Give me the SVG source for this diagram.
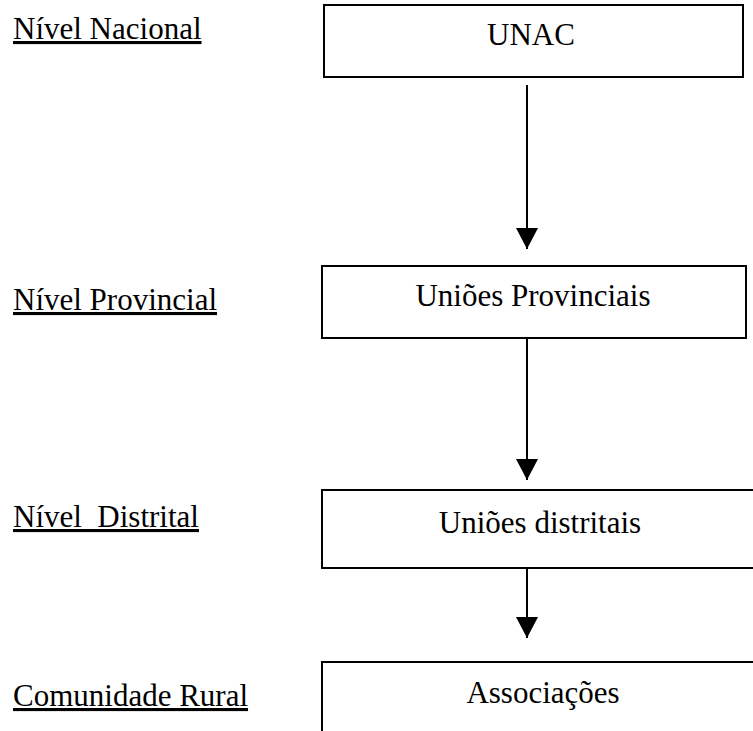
<svg xmlns="http://www.w3.org/2000/svg" width="753" height="731" viewBox="0 0 753 731">
  <style>
    .box { fill: #ffffff; stroke: #000000; stroke-width: 2; }
    .lbl { font-family: "Liberation Serif", "Times New Roman", serif; font-size: 31px; fill: #000000; }
    .ctr { text-anchor: middle; }
    .lvl { text-decoration: underline; }
    .edge { stroke: #000000; stroke-width: 2; fill: none; }
  </style>
  <defs>
    <marker id="arrow" markerUnits="userSpaceOnUse" markerWidth="22" markerHeight="22" viewBox="0 0 20 21" refX="20" refY="10.5" orient="auto">
      <path d="M0,0 L20,10.5 L0,21 Z" fill="#000000"/>
    </marker>
  </defs>
  <rect width="753" height="731" fill="#ffffff"/>

  <g id="levels">
    <text class="lbl lvl" x="13" y="39">Nível Nacional</text>
    <text class="lbl lvl" x="13" y="310">Nível Provincial</text>
    <text class="lbl lvl" x="13" y="527" xml:space="preserve">Nível  Distrital</text>
    <text class="lbl lvl" x="13" y="706">Comunidade Rural</text>
  </g>

  <g id="node-unac">
    <rect class="box" x="324" y="5" width="419" height="72"/>
    <text class="lbl ctr" x="531" y="45">UNAC</text>
  </g>
  <g id="node-provinciais">
    <rect class="box" x="322" y="266" width="424" height="72"/>
    <text class="lbl ctr" x="533" y="306">Uniões Provinciais</text>
  </g>
  <g id="node-distritais">
    <rect class="box" x="322" y="490" width="440" height="78"/>
    <text class="lbl ctr" x="540" y="533">Uniões distritais</text>
  </g>
  <g id="node-associacoes">
    <rect class="box" x="322" y="662" width="440" height="80"/>
    <text class="lbl ctr" x="543" y="703">Associações</text>
  </g>

  <g id="connectors">
    <line class="edge" x1="527" y1="85" x2="527" y2="249" marker-end="url(#arrow)"/>
    <line class="edge" x1="527" y1="338" x2="527" y2="480" marker-end="url(#arrow)"/>
    <line class="edge" x1="527" y1="568" x2="527" y2="638" marker-end="url(#arrow)"/>
  </g>
</svg>
